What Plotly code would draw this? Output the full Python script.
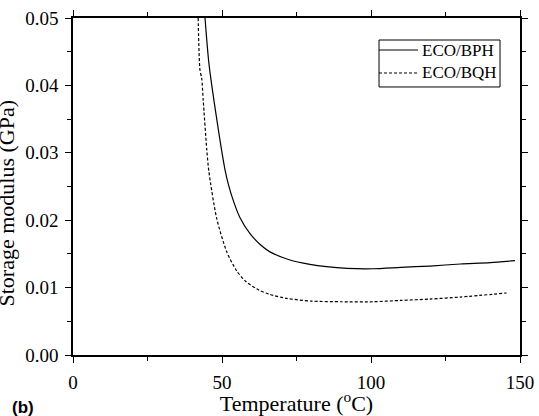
import plotly.graph_objects as go

# Storage modulus vs temperature for the two cured networks
temp_bph = [44.3, 45.6, 48.2, 51.0, 52.1, 53.8, 56.0, 59.4, 62.8, 66.1, 72.8, 79.5,
            85.0, 92.0, 100.7, 110.0, 119.8, 130.0, 140.0, 148.3]
mod_bph = [0.0500, 0.0433, 0.0351, 0.0275, 0.0254, 0.0229, 0.0204, 0.0180, 0.0164,
           0.0153, 0.0141, 0.01345, 0.0131, 0.01285, 0.0128, 0.0130, 0.0132, 0.0135,
           0.0137, 0.0140]

temp_bqh = [42.0, 42.6, 43.2, 43.7, 44.9, 45.6, 48.2, 51.6, 54.9, 58.0, 62.5, 66.0,
            71.7, 80.0, 90.0, 100.7, 110.0, 119.8, 130.0, 145.5]
mod_bqh = [0.0500, 0.0423, 0.0410, 0.0378, 0.0304, 0.0272, 0.0203, 0.0153, 0.0125,
           0.0109, 0.0096, 0.0090, 0.0084, 0.0080, 0.0079, 0.0079, 0.0081, 0.0083,
           0.0086, 0.0092]

series_names = ["ECO/BPH", "ECO/BQH"]
series_dash = ["solid", "3px,2px"]

serif = "Liberation Serif"

fig = go.Figure()
for name, xs, ys, dash in zip(series_names, [temp_bph, temp_bqh], [mod_bph, mod_bqh], series_dash):
    fig.add_trace(go.Scatter(
        x=xs, y=ys, mode="lines", name=name, showlegend=False,
        line=dict(color="black", width=1.2, dash=dash, shape="spline", smoothing=0.7),
    ))

axis_common = dict(
    showline=True, linecolor="black", linewidth=1.5, mirror="ticks",
    ticks="outside", ticklen=6, tickwidth=1.2, tickcolor="black",
    showgrid=False, zeroline=False, ticklabelstandoff=3, automargin=False,
    tickfont=dict(family=serif, size=19, color="black"),
)

fig.update_xaxes(
    range=[0, 150], tickvals=[0, 50, 100, 150],
    minor=dict(tickvals=[25, 75, 125], ticklen=4, tickcolor="black", ticks="outside"),
    title=dict(text="Temperature (<sup>o</sup>C)", font=dict(family=serif, size=22, color="black"),
               standoff=2),
    **axis_common,
)
fig.update_yaxes(
    range=[0, 0.05], tickvals=[0, 0.01, 0.02, 0.03, 0.04, 0.05], tickformat=".2f",
    minor=dict(tickvals=[0.005, 0.015, 0.025, 0.035, 0.045], ticklen=4,
               tickcolor="black", ticks="outside"),
    **axis_common,
)

# Boxed legend in the upper right of the plotting area
leg_x0, leg_x1 = 0.6846, 0.9553
leg_y0, leg_y1 = 0.7953, 0.9347
row_y = [0.9050, 0.8368]
shapes = [dict(type="rect", xref="paper", yref="paper", x0=leg_x0, x1=leg_x1,
               y0=leg_y0, y1=leg_y1, line=dict(color="black", width=1),
               fillcolor="white", layer="above")]
annotations = []
for name, dash, yy in zip(series_names, series_dash, row_y):
    shapes.append(dict(type="line", xref="paper", yref="paper", x0=leg_x0, x1=0.7718,
                       y0=yy, y1=yy, line=dict(color="black", width=1, dash=dash),
                       layer="above"))
    annotations.append(dict(text=name, xref="paper", yref="paper", x=0.7755, y=yy,
                            xanchor="left", yanchor="middle", showarrow=False,
                            font=dict(family=serif, size=17, color="black")))

annotations += [
    dict(text="Storage modulus (GPa)", textangle=-90, xref="paper", yref="paper",
         x=0, y=0.5, xanchor="center", yanchor="middle", xshift=-67, yshift=-17,
         showarrow=False, font=dict(family=serif, size=22, color="black")),
    dict(text="<b>(b)</b>", xref="paper", yref="paper", x=0, y=0,
         xanchor="left", yanchor="middle", xshift=-63, yshift=-52,
         showarrow=False, font=dict(family="Liberation Sans", size=17, color="black")),
]

fig.update_layout(
    width=539, height=416,
    margin=dict(l=73, r=19, t=18, b=61),
    plot_bgcolor="white", paper_bgcolor="white",
    showlegend=False,
    shapes=shapes,
    annotations=annotations,
)

fig.write_html("out.html")
